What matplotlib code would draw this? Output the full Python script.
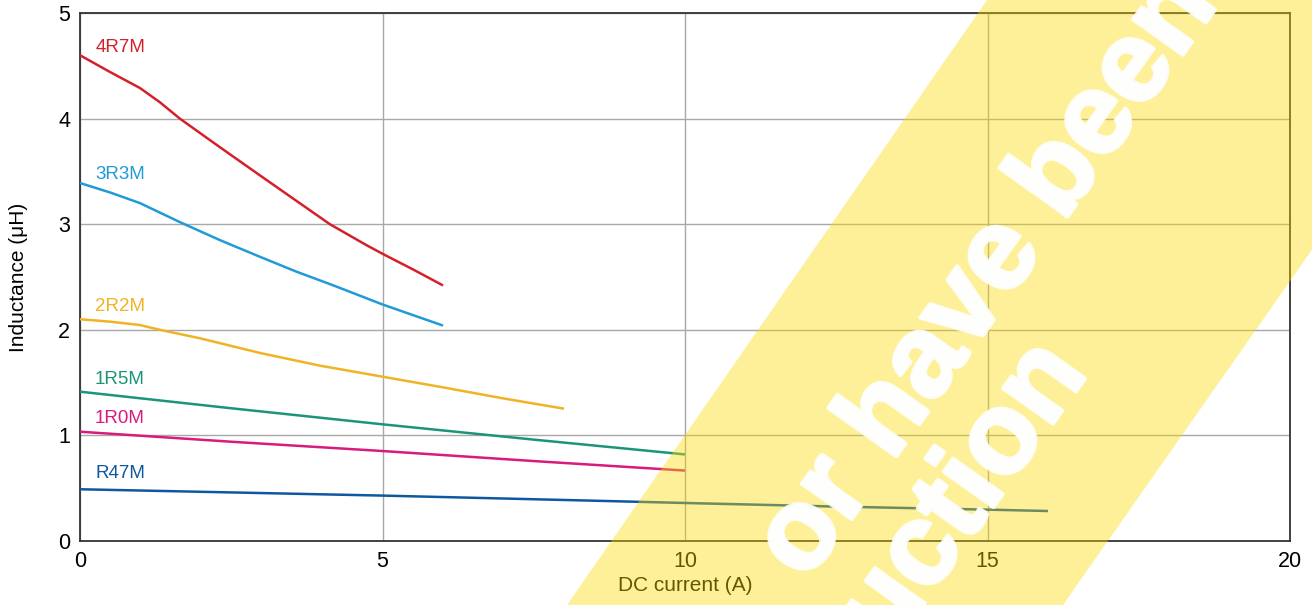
import matplotlib
matplotlib.use("Agg")
import matplotlib.pyplot as plt
from matplotlib.patches import Polygon
import matplotlib.patheffects as pe

plt.rcParams['font.family'] = ['Liberation Sans', 'DejaVu Sans']

# ---- data ----
names = ["4R7M", "3R3M", "2R2M", "1R5M", "1R0M", "R47M"]
colors = ["#d4202a", "#229ad8", "#f0b323", "#1b9579", "#d81b7c", "#0d58a0"]

i_4r7 = [0, 0.50, 0.99, 1.32, 1.65, 2.31, 2.98, 3.58, 4.13, 4.74, 5.0, 5.51, 6.0]
l_4r7 = [4.60, 4.44, 4.29, 4.155, 4.00, 3.73, 3.46, 3.22, 3.00, 2.80, 2.72, 2.57, 2.42]

i_3r3 = [0, 0.50, 0.99, 1.65, 2.31, 2.98, 3.58, 4.19, 5.0, 6.0]
l_3r3 = [3.39, 3.30, 3.20, 3.02, 2.85, 2.69, 2.55, 2.42, 2.24, 2.04]

i_2r2 = [0, 0.5, 0.99, 1.32, 1.98, 2.98, 3.97, 5.0, 6.0, 7.0, 8.0]
l_2r2 = [2.10, 2.077, 2.045, 2.00, 1.92, 1.78, 1.66, 1.556, 1.455, 1.35, 1.253]

i_1r5 = [0, 2.5, 5.0, 7.5, 10.0]
l_1r5 = [1.414, 1.257, 1.105, 0.96, 0.82]

i_1r0 = [0, 2.5, 5.0, 7.5, 10.0]
l_1r0 = [1.035, 0.94, 0.852, 0.757, 0.667]

i_r47 = [0, 2.5, 5.0, 8.4, 10.0, 12.5, 15.0, 16.0]
l_r47 = [0.49, 0.46, 0.43, 0.383, 0.36, 0.326, 0.297, 0.284]

currents = [i_4r7, i_3r3, i_2r2, i_1r5, i_1r0, i_r47]
inductances = [l_4r7, l_3r3, l_2r2, l_1r5, l_1r0, l_r47]
label_y = [4.67, 3.47, 2.22, 1.53, 1.16, 0.64]

x_ticks = [0, 5, 10, 15, 20]
y_ticks = [0, 1, 2, 3, 4, 5]

# ---- figure ----
W, H = 1312, 605
fig = plt.figure(figsize=(W / 100, H / 100), dpi=100)
ax = fig.add_axes([80 / W, 1 - 541 / H, 1210 / W, 528 / H])

for xs, ys, c in zip(currents, inductances, colors):
    ax.plot(xs, ys, color=c, lw=1.8, solid_capstyle='butt',
            solid_joinstyle='round', zorder=3)
for n, c, ly in zip(names, colors, label_y):
    ax.text(0.25, ly, n, color=c, fontsize=13.5, va='center', ha='left', zorder=4)

ax.set_xlim(0, 20)
ax.set_ylim(0, 5)
ax.set_xticks(x_ticks)
ax.set_yticks(y_ticks)
ax.grid(True, color="#a8a8a8", lw=1.0)
ax.set_axisbelow(True)
ax.tick_params(length=0, labelsize=15.5, pad=7, colors="black")
for s in ax.spines.values():
    s.set_color("#333333")
    s.set_linewidth(1.3)

ax.set_xlabel("DC current (A)", fontsize=15)
ax.set_ylabel("Inductance (\u03bcH)", fontsize=15)
ax.xaxis.set_label_coords(0.5, (541 - 576) / 528)
ax.yaxis.set_label_coords((28 - 80) / 1210, 0.5)

# ---- diagonal watermark band ----
band = [(987, 0), (1487, 0), (1063, 605), (567, 605)]
band_fig = [(x / W, 1 - y / H) for x, y in band]
fig.add_artist(Polygon(band_fig, closed=True, transform=fig.transFigure,
                       facecolor=(252 / 255, 218 / 255, 0), alpha=0.4,
                       edgecolor='none', zorder=10))

ang = 54.5
thick = [pe.withStroke(linewidth=3, foreground='white')]
fig.text(1219 / W, 1 - 4 / H, "or have been", rotation=ang, rotation_mode='anchor',
         ha='right', va='baseline', fontsize=83, fontweight='bold',
         color='white', alpha=0.9, zorder=11, path_effects=thick)
fig.text(1089 / W, 1 - 373 / H, "production", rotation=ang, rotation_mode='anchor',
         ha='right', va='baseline', fontsize=83, fontweight='bold',
         color='white', alpha=0.9, zorder=11, path_effects=thick)

fig.savefig("out.png", dpi=100)
